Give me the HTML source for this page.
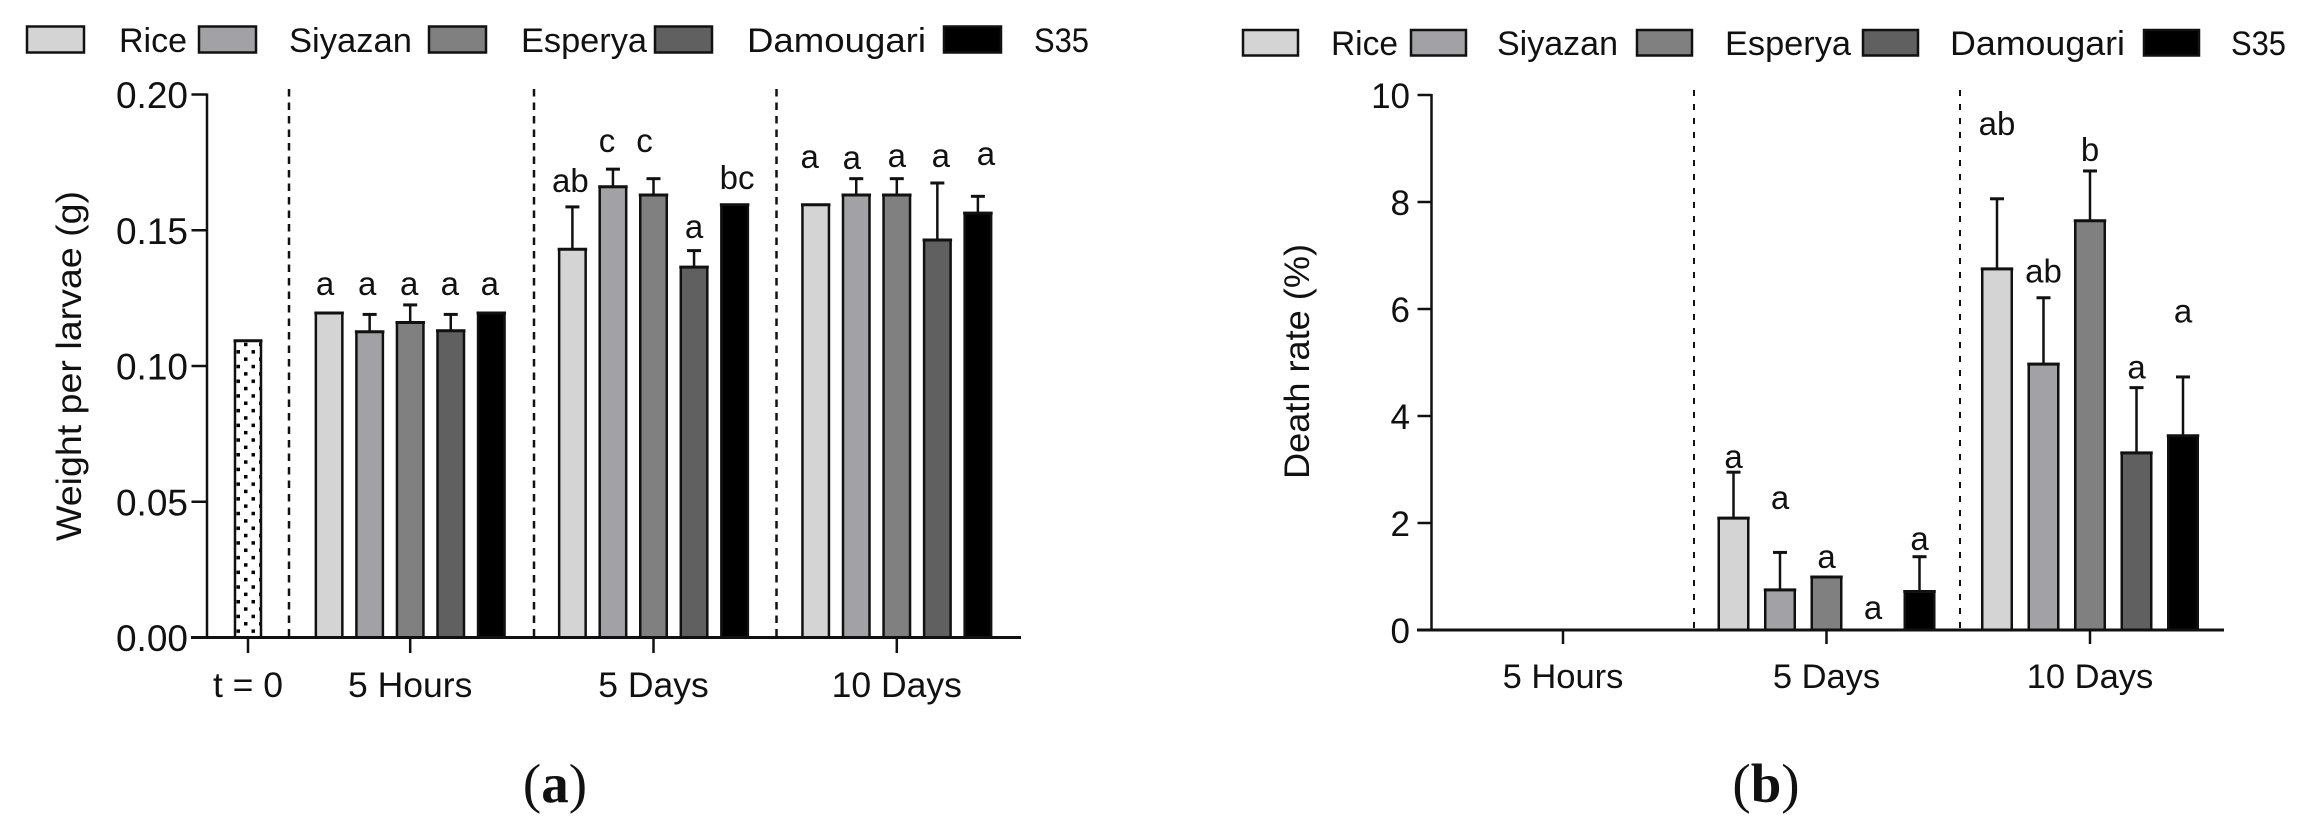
<!DOCTYPE html>
<html lang="en">
<head>
<meta charset="utf-8">
<title>Larvae weight and death rate</title>
<style>
  html, body { margin: 0; padding: 0; background: #fff; }
  svg { display: block; }
  text { font-family: "Liberation Sans", sans-serif; fill: #111; }
  .caption { font-family: "Liberation Serif", serif; font-size: 55px; }
</style>
</head>
<body>
<svg id="figure" xmlns="http://www.w3.org/2000/svg" width="2299" height="832" viewBox="0 0 2299 832">
  <defs>
    <pattern id="dots" x="232.5" y="304" width="15" height="14.7" patternUnits="userSpaceOnUse">
      <rect x="4" y="2" width="3.5" height="3.5" fill="#000"/>
      <rect x="11.5" y="9.3" width="3.5" height="3.5" fill="#000"/>
    </pattern>
  </defs>
  <rect width="2299" height="832" fill="#fff"/>

  <g font-size="34">
    <rect x="27" y="26.5" width="57" height="26" fill="#d4d4d4" stroke="#111" stroke-width="2.5"/>
    <text x="119" y="52" textLength="68" lengthAdjust="spacingAndGlyphs">Rice</text>
    <rect x="199" y="26.5" width="57" height="26" fill="#a2a2a6" stroke="#111" stroke-width="2.5"/>
    <text x="289" y="52" textLength="123" lengthAdjust="spacingAndGlyphs">Siyazan</text>
    <rect x="429" y="26.5" width="57" height="26" fill="#808080" stroke="#111" stroke-width="2.5"/>
    <text x="521" y="52" textLength="126" lengthAdjust="spacingAndGlyphs">Esperya</text>
    <rect x="655" y="26.5" width="57" height="26" fill="#606060" stroke="#111" stroke-width="2.5"/>
    <text x="747" y="52" textLength="179" lengthAdjust="spacingAndGlyphs">Damougari</text>
    <rect x="944" y="26.5" width="57" height="26" fill="#000" stroke="#111" stroke-width="2.5"/>
    <text x="1034" y="52" textLength="55" lengthAdjust="spacingAndGlyphs">S35</text>
  </g>

  <g font-size="34">
    <rect x="1243" y="30" width="55" height="25.5" fill="#d4d4d4" stroke="#111" stroke-width="2.5"/>
    <text x="1331" y="55" textLength="67" lengthAdjust="spacingAndGlyphs">Rice</text>
    <rect x="1411" y="30" width="55" height="25.5" fill="#a2a2a6" stroke="#111" stroke-width="2.5"/>
    <text x="1497" y="55" textLength="121" lengthAdjust="spacingAndGlyphs">Siyazan</text>
    <rect x="1637" y="30" width="55" height="25.5" fill="#808080" stroke="#111" stroke-width="2.5"/>
    <text x="1725" y="55" textLength="126" lengthAdjust="spacingAndGlyphs">Esperya</text>
    <rect x="1863" y="30" width="55" height="25.5" fill="#606060" stroke="#111" stroke-width="2.5"/>
    <text x="1950" y="55" textLength="175" lengthAdjust="spacingAndGlyphs">Damougari</text>
    <rect x="2144" y="30" width="55" height="25.5" fill="#000" stroke="#111" stroke-width="2.5"/>
    <text x="2231" y="55" textLength="55" lengthAdjust="spacingAndGlyphs">S35</text>
  </g>

  <text transform="translate(81,541) rotate(-90)" font-size="35" textLength="350" lengthAdjust="spacingAndGlyphs">Weight per larvae (g)</text>
  <text transform="translate(1309,479) rotate(-90)" font-size="35" textLength="235" lengthAdjust="spacingAndGlyphs">Death rate (%)</text>

  <text class="caption" x="555" y="802" text-anchor="middle">(<tspan font-weight="bold">a</tspan>)</text>
  <text class="caption" x="1766" y="802" text-anchor="middle">(<tspan font-weight="bold">b</tspan>)</text>

  <g id="chart-a"></g>
  <g id="chart-b"></g>
</svg>

<script>
// Shared
const seriesNames = ['rice', 'siyazan', 'esperya', 'damougari', 's35'];
const seriesFills = ['#d4d4d4', '#a2a2a6', '#808080', '#606060', '#000000'];

// Panel (a): weight per larvae (g)
const weightGroups = ['t = 0', '5 Hours', '5 Days', '10 Days'];
const weightTicks = ['0.00', '0.05', '0.10', '0.15', '0.20'];
const weightBaseline = [0.1093];
const weightValues = [
  [0.1195, 0.1126, 0.116, 0.113, 0.1195],
  [0.143, 0.166, 0.163, 0.1364, 0.1594],
  [0.1594, 0.163, 0.163, 0.1464, 0.1563]
];
const weightUpper = [
  [0.1195, 0.119, 0.1225, 0.119, 0.1195],
  [0.1586, 0.1725, 0.169, 0.1425, 0.1594],
  [0.1594, 0.169, 0.169, 0.1674, 0.1625]
];
const weightLetters = [
  ['a', 'a', 'a', 'a', 'a'],
  ['ab', 'c', 'c', 'a', 'bc'],
  ['a', 'a', 'a', 'a', 'a']
];
const weightLetterLevels = [
  [0.1262, 0.1262, 0.1262, 0.1262, 0.1262],
  [0.1641, 0.1789, 0.1789, 0.1472, 0.1652],
  [0.1729, 0.1726, 0.1733, 0.1733, 0.174]
];

// Panel (b): death rate (%)
const deathGroups = ['5 Hours', '5 Days', '10 Days'];
const deathTicks = ['0', '2', '4', '6', '8', '10'];
const deathValues = [
  [0, 0, 0, 0, 0],
  [2.09, 0.75, 0.99, 0, 0.72],
  [6.75, 4.97, 7.65, 3.31, 3.63]
];
const deathUpper = [
  [0, 0, 0, 0, 0],
  [2.95, 1.45, 0.99, 0, 1.37],
  [8.06, 6.21, 8.58, 4.53, 4.73]
];
const deathLetters = [
  [],
  ['a', 'a', 'a', 'a', 'a'],
  ['ab', 'ab', 'b', 'a', 'a']
];
const deathLetterLevels = [
  [],
  [3.03, 2.26, 1.16, 0.21, 1.5],
  [9.25, 6.5, 8.77, 4.7, 5.75]
];

const SVGNS = 'http://www.w3.org/2000/svg';
const INK = '#111';

function mk(tag, attrs, parent) {
  const el = document.createElementNS(SVGNS, tag);
  for (const k in attrs) el.setAttribute(k, attrs[k]);
  parent.appendChild(el);
  return el;
}

function drawYAxis(root, axisX, yFn, tickLabels, tickValues, top, leftX, labelRight, labelDy, fontSize) {
  const axis = mk('line', { x1: axisX, x2: axisX, y1: top - 1, y2: yFn(0), stroke: INK, 'stroke-width': 2.5 }, root);
  
  
  tickLabels.forEach(function (label, i) {
    const y = yFn(tickValues(i));
    const tick = mk('line', { x1: leftX, x2: axisX, y1: y, y2: y, stroke: INK, 'stroke-width': 2.5 }, root);
    
    
    const t = mk('text', { x: labelRight, y: y + labelDy, 'text-anchor': 'end', 'font-size': fontSize }, root);
    t.textContent = label;
    
    
  });
}

function drawXAxis(root, y0, x1, x2, tickBottom, labels, centerFn, labelY, fontSize) {
  const axis = mk('line', { x1: x1, x2: x2, y1: y0, y2: y0, stroke: INK, 'stroke-width': 3 }, root);
  
  
  labels.forEach(function (label, g) {
    const x = centerFn(g);
    const tick = mk('line', { x1: x, x2: x, y1: y0, y2: tickBottom, stroke: INK, 'stroke-width': 2.5 }, root);
    
    
    const t = mk('text', { x: x, y: labelY, 'text-anchor': 'middle', 'font-size': fontSize }, root);
    t.textContent = label;
    
    
  });
}

function drawBar(root, name, cx, width, value, upper, fill, yFn) {
  if (value <= 0) return;
  const top = yFn(value), y0 = yFn(0);
  if (upper > value) {
    const whisker = mk('line', { x1: cx, x2: cx, y1: yFn(upper), y2: top, stroke: INK, 'stroke-width': 2.5 }, root);
    
    
    const cap = mk('line', { x1: cx - 7, x2: cx + 7, y1: yFn(upper), y2: yFn(upper), stroke: INK, 'stroke-width': 3 }, root);
    
    
  }
  const bar = mk('rect', { x: cx - width / 2, y: top, width: width, height: y0 - top, fill: fill, stroke: INK, 'stroke-width': 2.5 }, root);
  
  
  const edge = mk('line', { x1: cx - width / 2 - 1.5, x2: cx + width / 2 + 1.5, y1: top, y2: top, stroke: INK, 'stroke-width': 3 }, root);
  
  
}

function drawLetter(root, text, cx, y) {
  const t = mk('text', { x: cx, y: y, 'text-anchor': 'middle', 'font-size': 33 }, root);
  t.textContent = text;
  
  
}

function drawDivider(root, x, top, bottom, width, dash) {
  const d = mk('line', { x1: x, x2: x, y1: top, y2: bottom, stroke: INK, 'stroke-width': width, 'stroke-dasharray': dash }, root);
  
  
}

// ---- Panel (a)
(function () {
  const root = document.getElementById('chart-a');
  const yA = function (v) { return 637.5 - v * 2715; };
  const groupX = function (g) { return g === 0 ? 248 : 410.2 + 243.3 * (g - 1); };
  const step = 40.55, barW = 26.5;
  // hand-placed letter shifts from the bar centre, as in the original figure
  const letterShift = [
    [-4, -2.5, -1, -1, -1.5],
    [-2, -6, -9, 0, 2.5],
    [-6, -4.5, 0, 3.5, 8]
  ];

  [289, 534, 776.5].forEach(function (x) { drawDivider(root, x, 89, 640, 2.5, '7.5 6'); });

  const base = mk('rect', { x: groupX(0) - 13, y: yA(weightBaseline[0]), width: 26, height: yA(0) - yA(weightBaseline[0]), fill: 'url(#dots)', stroke: INK, 'stroke-width': 2.5 }, root);
  
  
  const baseEdge = mk('line', { x1: groupX(0) - 14.5, x2: groupX(0) + 14.5, y1: yA(weightBaseline[0]), y2: yA(weightBaseline[0]), stroke: INK, 'stroke-width': 3 }, root);
  
  

  weightValues.forEach(function (row, g) {
    row.forEach(function (v, s) {
      const cx = groupX(g + 1) + (s - 2) * step;
      drawBar(root, seriesNames[s], cx, barW, v, weightUpper[g][s], seriesFills[s], yA);
      drawLetter(root, weightLetters[g][s], cx + letterShift[g][s], yA(weightLetterLevels[g][s]));
    });
  });

  drawYAxis(root, 207, yA, weightTicks, function (i) { return i * 0.05; }, 94.5, 191.5, 188, 13.5, 37);
  drawXAxis(root, 637.5, 191, 1021, 653, weightGroups, groupX, 697, 35.5);
})();

// ---- Panel (b)
(function () {
  const root = document.getElementById('chart-b');
  const yB = function (v) { return 630 - v * 53.5; };
  const groupX = function (g) { return 1563 + 263.5 * g; };
  const step = 46.5, barW = 29.5;

  [1694, 1960].forEach(function (x) { drawDivider(root, x, 90, 630, 2, '6 8'); });

  deathValues.forEach(function (row, g) {
    row.forEach(function (v, s) {
      const cx = groupX(g) + (s - 2) * step;
      drawBar(root, seriesNames[s], cx, barW, v, deathUpper[g][s], seriesFills[s], yB);
      if (deathLetters[g][s]) drawLetter(root, deathLetters[g][s], cx, yB(deathLetterLevels[g][s]));
    });
  });

  drawYAxis(root, 1431.5, yB, deathTicks, function (i) { return i * 2; }, 95, 1417.5, 1410, 13, 35);
  drawXAxis(root, 630, 1417, 2224, 644, deathGroups, groupX, 688, 34.5);
})();
</script>
</body>
</html>
